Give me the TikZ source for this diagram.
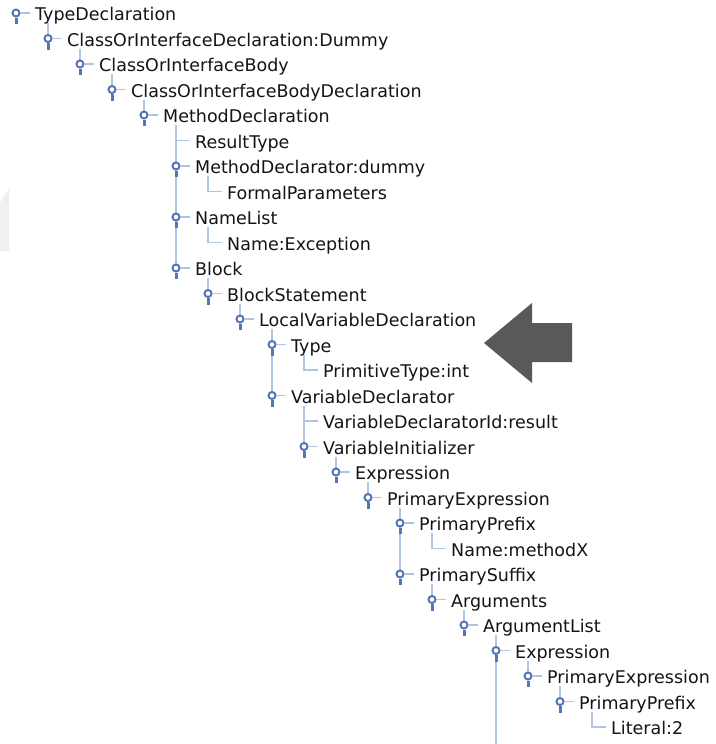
\documentclass[tikz,border=0pt]{standalone}
\usepackage{fontspec}
\setmainfont{DejaVu Sans}
\usetikzlibrary{backgrounds}

\definecolor{knobblue}{RGB}{86,117,181}
\definecolor{branchblue}{RGB}{178,198,228}
\definecolor{treetext}{RGB}{20,20,20}
\definecolor{arrowgray}{RGB}{89,89,89}

\begin{document}
\begin{tikzpicture}[x=1pt, y=-1pt,
    entry/.style={anchor=west, inner xsep=5pt, inner ysep=0pt, text height=16pt, text depth=1pt, font=\fontsize{17.5}{20}\selectfont, text=treetext},
    knob/.style={circle, draw=knobblue, fill=white, line width=2pt, minimum size=7pt, inner sep=0pt,
        append after command={\pgfextra{\draw[knobblue, line width=3pt] (\tikzlastnode.south) -- ++(0,6.5);}}},
    branch/.style={draw=branchblue, line width=1.1pt}]

    \useasboundingbox (0,0) rectangle (715,744);

    % the tree, one row every 25.5pt, one level every 32pt
    \node[knob] at (16,13) (TypeDeclaration knob) {};
    \node[entry] at (30,13) (TypeDeclaration) {TypeDeclaration};
    \node[knob] at (48,38.5) (ClassDecl knob) {};
    \node[entry] at (62,38.5) (ClassDecl) {ClassOrInterfaceDeclaration:Dummy};
    \node[knob] at (80,64) (ClassBody knob) {};
    \node[entry] at (94,64) (ClassBody) {ClassOrInterfaceBody};
    \node[knob] at (112,89.5) (BodyDecl knob) {};
    \node[entry] at (126,89.5) (BodyDecl) {ClassOrInterfaceBodyDeclaration};
    \node[knob] at (144,115) (MethodDeclaration knob) {};
    \node[entry] at (158,115) (MethodDeclaration) {MethodDeclaration};
    \coordinate (ResultType joint) at (176,140.5);
    \node[entry] at (190,140.5) (ResultType) {ResultType};
    \node[knob] at (176,166) (MethodDeclarator knob) {};
    \node[entry] at (190,166) (MethodDeclarator) {MethodDeclarator:dummy};
    \node[entry] at (222,191.5) (FormalParameters) {FormalParameters};
    \node[knob] at (176,217) (NameList knob) {};
    \node[entry] at (190,217) (NameList) {NameList};
    \node[entry] at (222,242.5) (NameException) {Name:Exception};
    \node[knob] at (176,268) (Block knob) {};
    \node[entry] at (190,268) (Block) {Block};
    \node[knob] at (208,293.5) (BlockStatement knob) {};
    \node[entry] at (222,293.5) (BlockStatement) {BlockStatement};
    \node[knob] at (240,319) (LocalVarDecl knob) {};
    \node[entry] at (254,319) (LocalVarDecl) {LocalVariableDeclaration};
    \node[knob] at (272,344.5) (Type knob) {};
    \node[entry] at (286,344.5) (Type) {Type};
    \node[entry] at (318,370) (PrimitiveType) {PrimitiveType:int};
    \node[knob] at (272,395.5) (VarDeclarator knob) {};
    \node[entry] at (286,395.5) (VarDeclarator) {VariableDeclarator};
    \coordinate (VarDeclaratorId joint) at (304,421);
    \node[entry] at (318,421) (VarDeclaratorId) {VariableDeclaratorId:result};
    \node[knob] at (304,446.5) (VarInitializer knob) {};
    \node[entry] at (318,446.5) (VarInitializer) {VariableInitializer};
    \node[knob] at (336,472) (Expression knob) {};
    \node[entry] at (350,472) (Expression) {Expression};
    \node[knob] at (368,497.5) (PrimaryExpression knob) {};
    \node[entry] at (382,497.5) (PrimaryExpression) {PrimaryExpression};
    \node[knob] at (400,523) (PrimaryPrefix knob) {};
    \node[entry] at (414,523) (PrimaryPrefix) {PrimaryPrefix};
    \node[entry] at (446,548.5) (NameMethodX) {Name:methodX};
    \node[knob] at (400,574) (PrimarySuffix knob) {};
    \node[entry] at (414,574) (PrimarySuffix) {PrimarySuffix};
    \node[knob] at (432,599.5) (Arguments knob) {};
    \node[entry] at (446,599.5) (Arguments) {Arguments};
    \node[knob] at (464,625) (ArgumentList knob) {};
    \node[entry] at (478,625) (ArgumentList) {ArgumentList};
    \node[knob] at (496,650.5) (Expression 2 knob) {};
    \node[entry] at (510,650.5) (Expression 2) {Expression};
    \node[knob] at (528,676) (PrimaryExpression 2 knob) {};
    \node[entry] at (542,676) (PrimaryExpression 2) {PrimaryExpression};
    \node[knob] at (560,701.5) (PrimaryPrefix 2 knob) {};
    \node[entry] at (574,701.5) (PrimaryPrefix 2) {PrimaryPrefix};
    \node[entry] at (606,727) (Literal) {Literal:2};
    \coordinate (list end) at (496,744);

    % the arrow pointing at the declaration
    \fill[arrowgray] (484,343) -- (532,303) -- (532,323) -- (572,323) -- (572,362) -- (532,362) -- (532,383) -- cycle;

    \begin{scope}[on background layer]
        \fill[white] (0,0) rectangle (715,744);
        \fill[black!6] (0,203) -- (9,188) -- (9,251) -- (0,251) -- cycle;
        % knob to label
        \draw[branch] (TypeDeclaration knob) -- (TypeDeclaration) (ClassDecl knob) -- (ClassDecl)
            (ClassBody knob) -- (ClassBody) (BodyDecl knob) -- (BodyDecl)
            (MethodDeclaration knob) -- (MethodDeclaration) (MethodDeclarator knob) -- (MethodDeclarator)
            (NameList knob) -- (NameList) (Block knob) -- (Block)
            (BlockStatement knob) -- (BlockStatement) (LocalVarDecl knob) -- (LocalVarDecl)
            (Type knob) -- (Type) (VarDeclarator knob) -- (VarDeclarator)
            (VarInitializer knob) -- (VarInitializer) (Expression knob) -- (Expression)
            (PrimaryExpression knob) -- (PrimaryExpression) (PrimaryPrefix knob) -- (PrimaryPrefix)
            (PrimarySuffix knob) -- (PrimarySuffix) (Arguments knob) -- (Arguments)
            (ArgumentList knob) -- (ArgumentList) (Expression 2 knob) -- (Expression 2)
            (PrimaryExpression 2 knob) -- (PrimaryExpression 2) (PrimaryPrefix 2 knob) -- (PrimaryPrefix 2);
        % parent to children
        \draw[branch] (TypeDeclaration knob) ++(32,10) -- (ClassDecl knob);
        \draw[branch] (ClassDecl knob) ++(32,10) -- (ClassBody knob);
        \draw[branch] (ClassBody knob) ++(32,10) -- (BodyDecl knob);
        \draw[branch] (BodyDecl knob) ++(32,10) -- (MethodDeclaration knob);
        \draw[branch] (MethodDeclaration knob) ++(32,10) -- (Block knob);
        \draw[branch] (ResultType joint) -- (ResultType);
        \draw[branch] (MethodDeclarator knob) ++(32,10) |- (FormalParameters);
        \draw[branch] (NameList knob) ++(32,10) |- (NameException);
        \draw[branch] (Block knob) ++(32,10) -- (BlockStatement knob);
        \draw[branch] (BlockStatement knob) ++(32,10) -- (LocalVarDecl knob);
        \draw[branch] (LocalVarDecl knob) ++(32,10) -- (VarDeclarator knob);
        \draw[branch] (Type knob) ++(32,10) |- (PrimitiveType);
        \draw[branch] (VarDeclarator knob) ++(32,10) -- (VarInitializer knob);
        \draw[branch] (VarDeclaratorId joint) -- (VarDeclaratorId);
        \draw[branch] (VarInitializer knob) ++(32,10) -- (Expression knob);
        \draw[branch] (Expression knob) ++(32,10) -- (PrimaryExpression knob);
        \draw[branch] (PrimaryExpression knob) ++(32,10) -- (PrimarySuffix knob);
        \draw[branch] (PrimaryPrefix knob) ++(32,10) |- (NameMethodX);
        \draw[branch] (PrimarySuffix knob) ++(32,10) -- (Arguments knob);
        \draw[branch] (Arguments knob) ++(32,10) -- (ArgumentList knob);
        \draw[branch] (ArgumentList knob) ++(32,10) -- (list end);
        \draw[branch] (Expression 2 knob) ++(32,10) -- (PrimaryExpression 2 knob);
        \draw[branch] (PrimaryExpression 2 knob) ++(32,10) -- (PrimaryPrefix 2 knob);
        \draw[branch] (PrimaryPrefix 2 knob) ++(32,10) |- (Literal);
    \end{scope}
\end{tikzpicture}
\end{document}
